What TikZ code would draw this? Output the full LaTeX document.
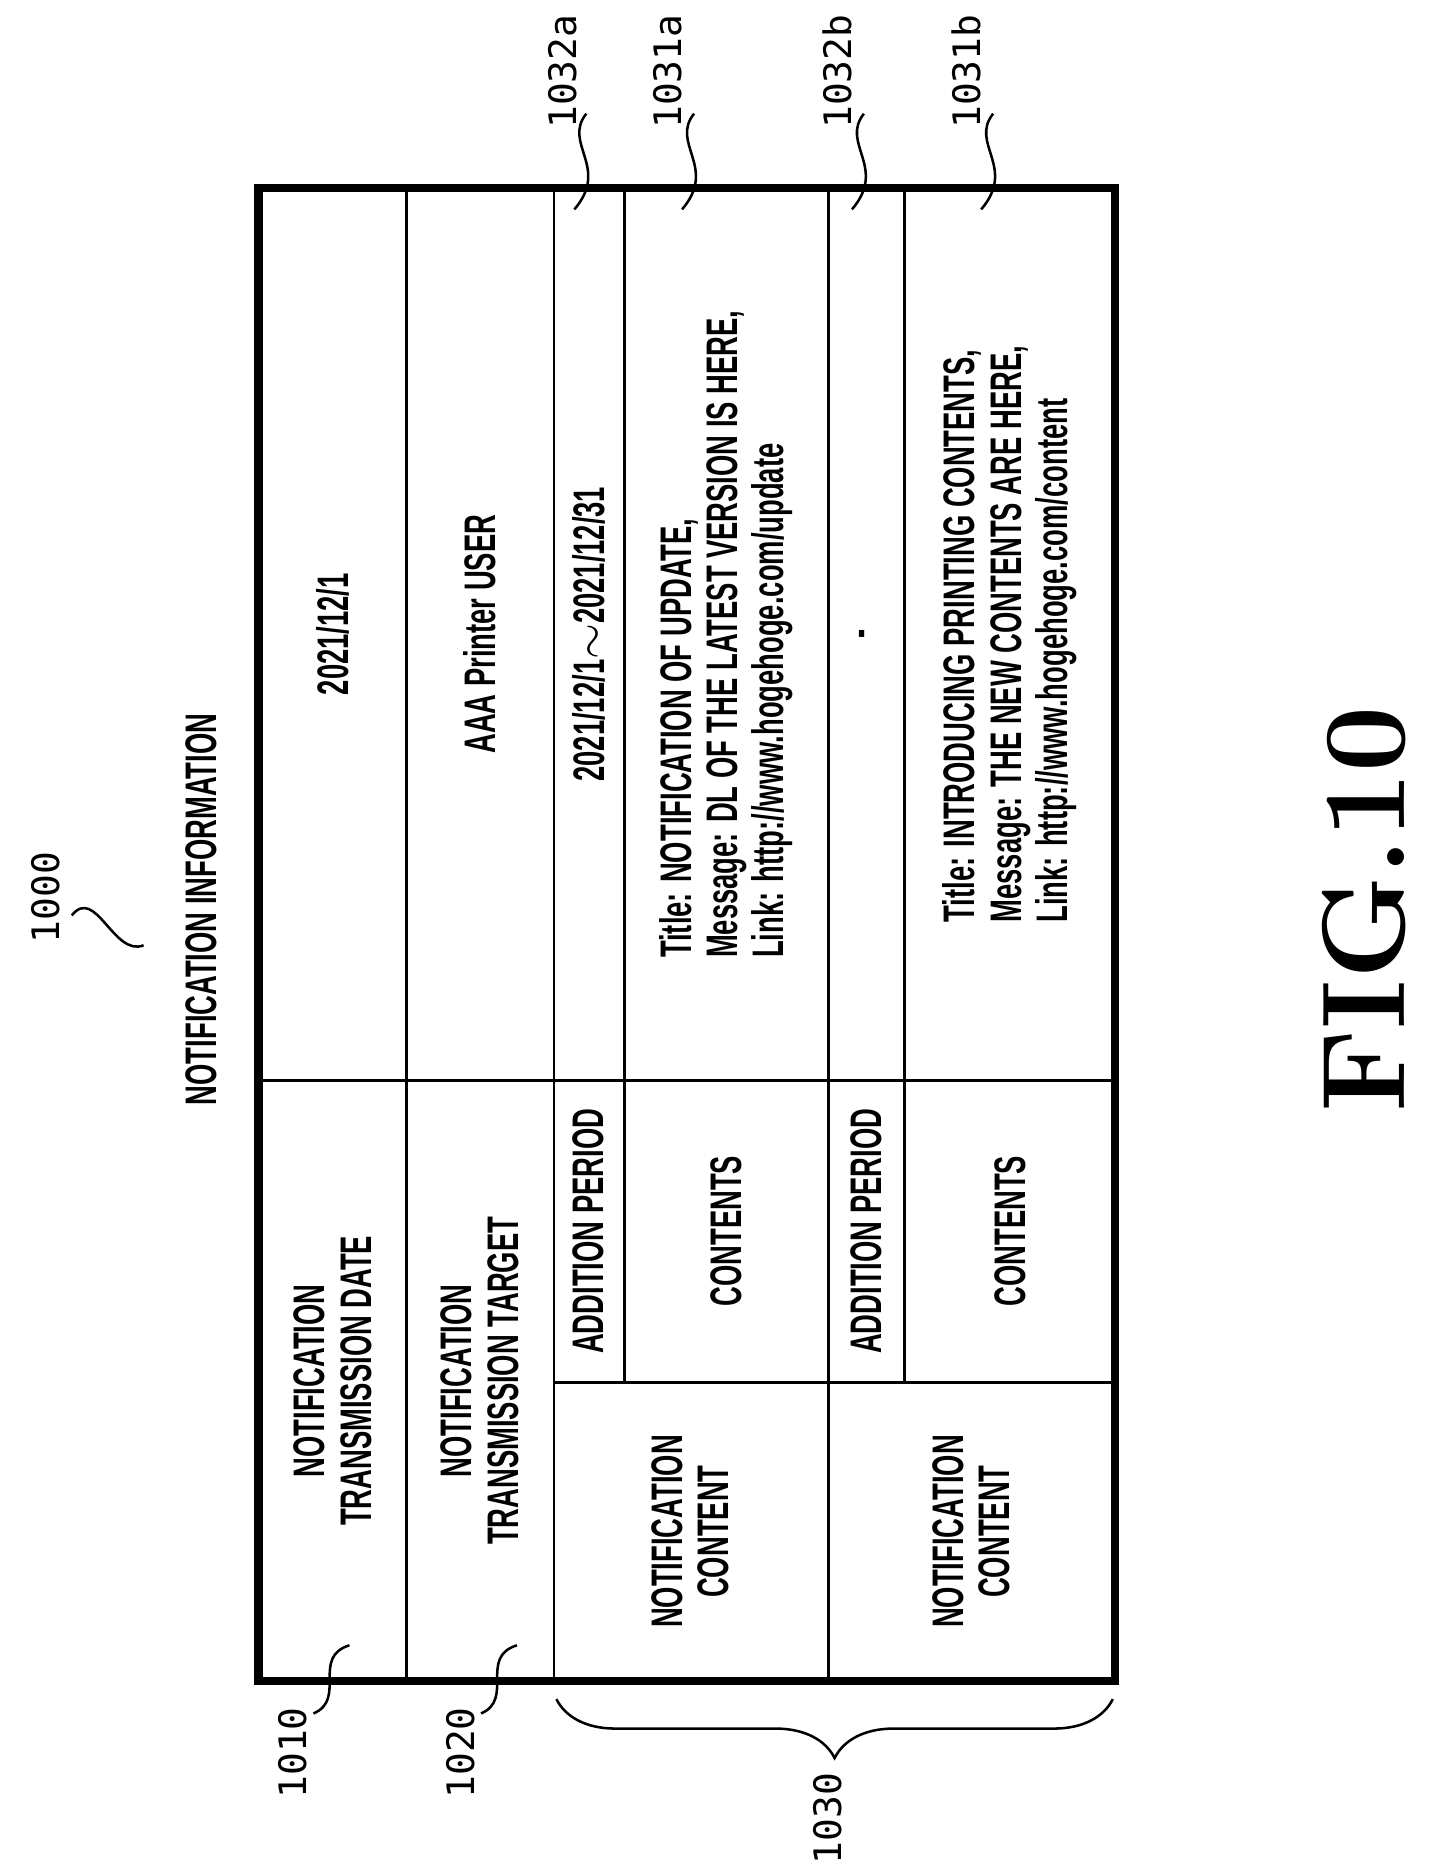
\documentclass[tikz,border=0pt]{standalone}
\usepackage{fontspec}
\usetikzlibrary{decorations.pathreplacing}
\newfontfamily\condf{Liberation Sans}[FakeStretch=0.62]
\newfontfamily\reff{DejaVu Sans Mono}
\begin{document}
\begin{tikzpicture}[x=0.01cm, y=-0.01cm,
  cell/.style={rotate=90, font=\condf\bfseries\fontsize{10.5}{11}\selectfont, align=center, inner sep=0pt},
  reflabel/.style={rotate=90, font=\reff\fontsize{9}{9}\selectfont, inner sep=1pt},
  lead/.style={line width=0.6pt}]
\useasboundingbox (0,0) rectangle (1200,1567);
% table frame and grid
\draw[line width=2pt] (216,157) rectangle (932,1405);
\draw[line width=0.7pt] (340,157) -- (340,1405) (463,157) -- (463,1405) (692,157) -- (692,1405)
  (522,157) -- (522,1155) (756,157) -- (756,1155)
  (216,903) -- (932,903) (463,1155) -- (932,1155);
% title
\node[reflabel] (num1000) at (38,750) {1000};
\draw[lead] (60,765) .. controls (80,740) and (95,800) .. (120,790);
\node[cell] (title) at (168,760) {NOTIFICATION INFORMATION};
% header cells
\node[cell] (hdate) at (278,1154) {NOTIFICATION\\TRANSMISSION DATE};
\node[cell] (htarget) at (401,1154) {NOTIFICATION\\TRANSMISSION TARGET};
\node[cell] (hcont1) at (577,1280) {NOTIFICATION\\CONTENT};
\node[cell] (hperiod1) at (492,1029) {ADDITION PERIOD};
\node[cell] (hcontents1) at (607,1029) {CONTENTS};
\node[cell] (hcont2) at (812,1280) {NOTIFICATION\\CONTENT};
\node[cell] (hperiod2) at (724,1029) {ADDITION PERIOD};
\node[cell] (hcontents2) at (844,1029) {CONTENTS};
% value cells
\node[cell] (vdate) at (278,530) {2021/12/1};
\node[cell] (vtarget) at (401,530) {AAA Printer USER};
\node[cell] (vperiod1) at (492,530) {2021/12/1$\sim$2021/12/31};
\node[cell, align=left] (vcont1) at (607,530) {Title: NOTIFICATION OF UPDATE,\\Message: DL OF THE LATEST VERSION IS HERE,\\Link: http://www.hogehoge.com/update};
\node[cell] (vperiod2) at (724,530) {-};
\node[cell, align=left] (vcont2) at (844,530) {Title: INTRODUCING PRINTING CONTENTS,\\Message: THE NEW CONTENTS ARE HERE,\\Link: http://www.hogehoge.com/content};
% reference labels
\node[reflabel] (r1032a) at (470,60) {1032a};
\draw[lead] (490,95) .. controls (470,120) and (510,140) .. (480,175);
\node[reflabel] (r1031a) at (558,60) {1031a};
\draw[lead] (580,95) .. controls (560,120) and (600,140) .. (570,175);
\node[reflabel] (r1032b) at (700,60) {1032b};
\draw[lead] (722,95) .. controls (702,120) and (742,140) .. (712,175);
\node[reflabel] (r1031b) at (808,60) {1031b};
\draw[lead] (830,95) .. controls (810,120) and (850,140) .. (820,175);
\node[reflabel] (r1010) at (245,1465) {1010};
\draw[lead] (262,1432) .. controls (290,1420) and (260,1385) .. (292,1375);
\node[reflabel] (r1020) at (385,1465) {1020};
\draw[lead] (402,1432) .. controls (430,1420) and (400,1385) .. (432,1375);
\node[reflabel] (r1030) at (692,1520) {1030};
\draw[lead, decorate, decoration={brace, mirror, amplitude=14pt}] (465,1420) -- (930,1420);
% figure caption
\node[rotate=90, font=\fontsize{28}{28}\selectfont\bfseries] (fig) at (1140,760) {FIG.10};
\end{tikzpicture}
\end{document}
